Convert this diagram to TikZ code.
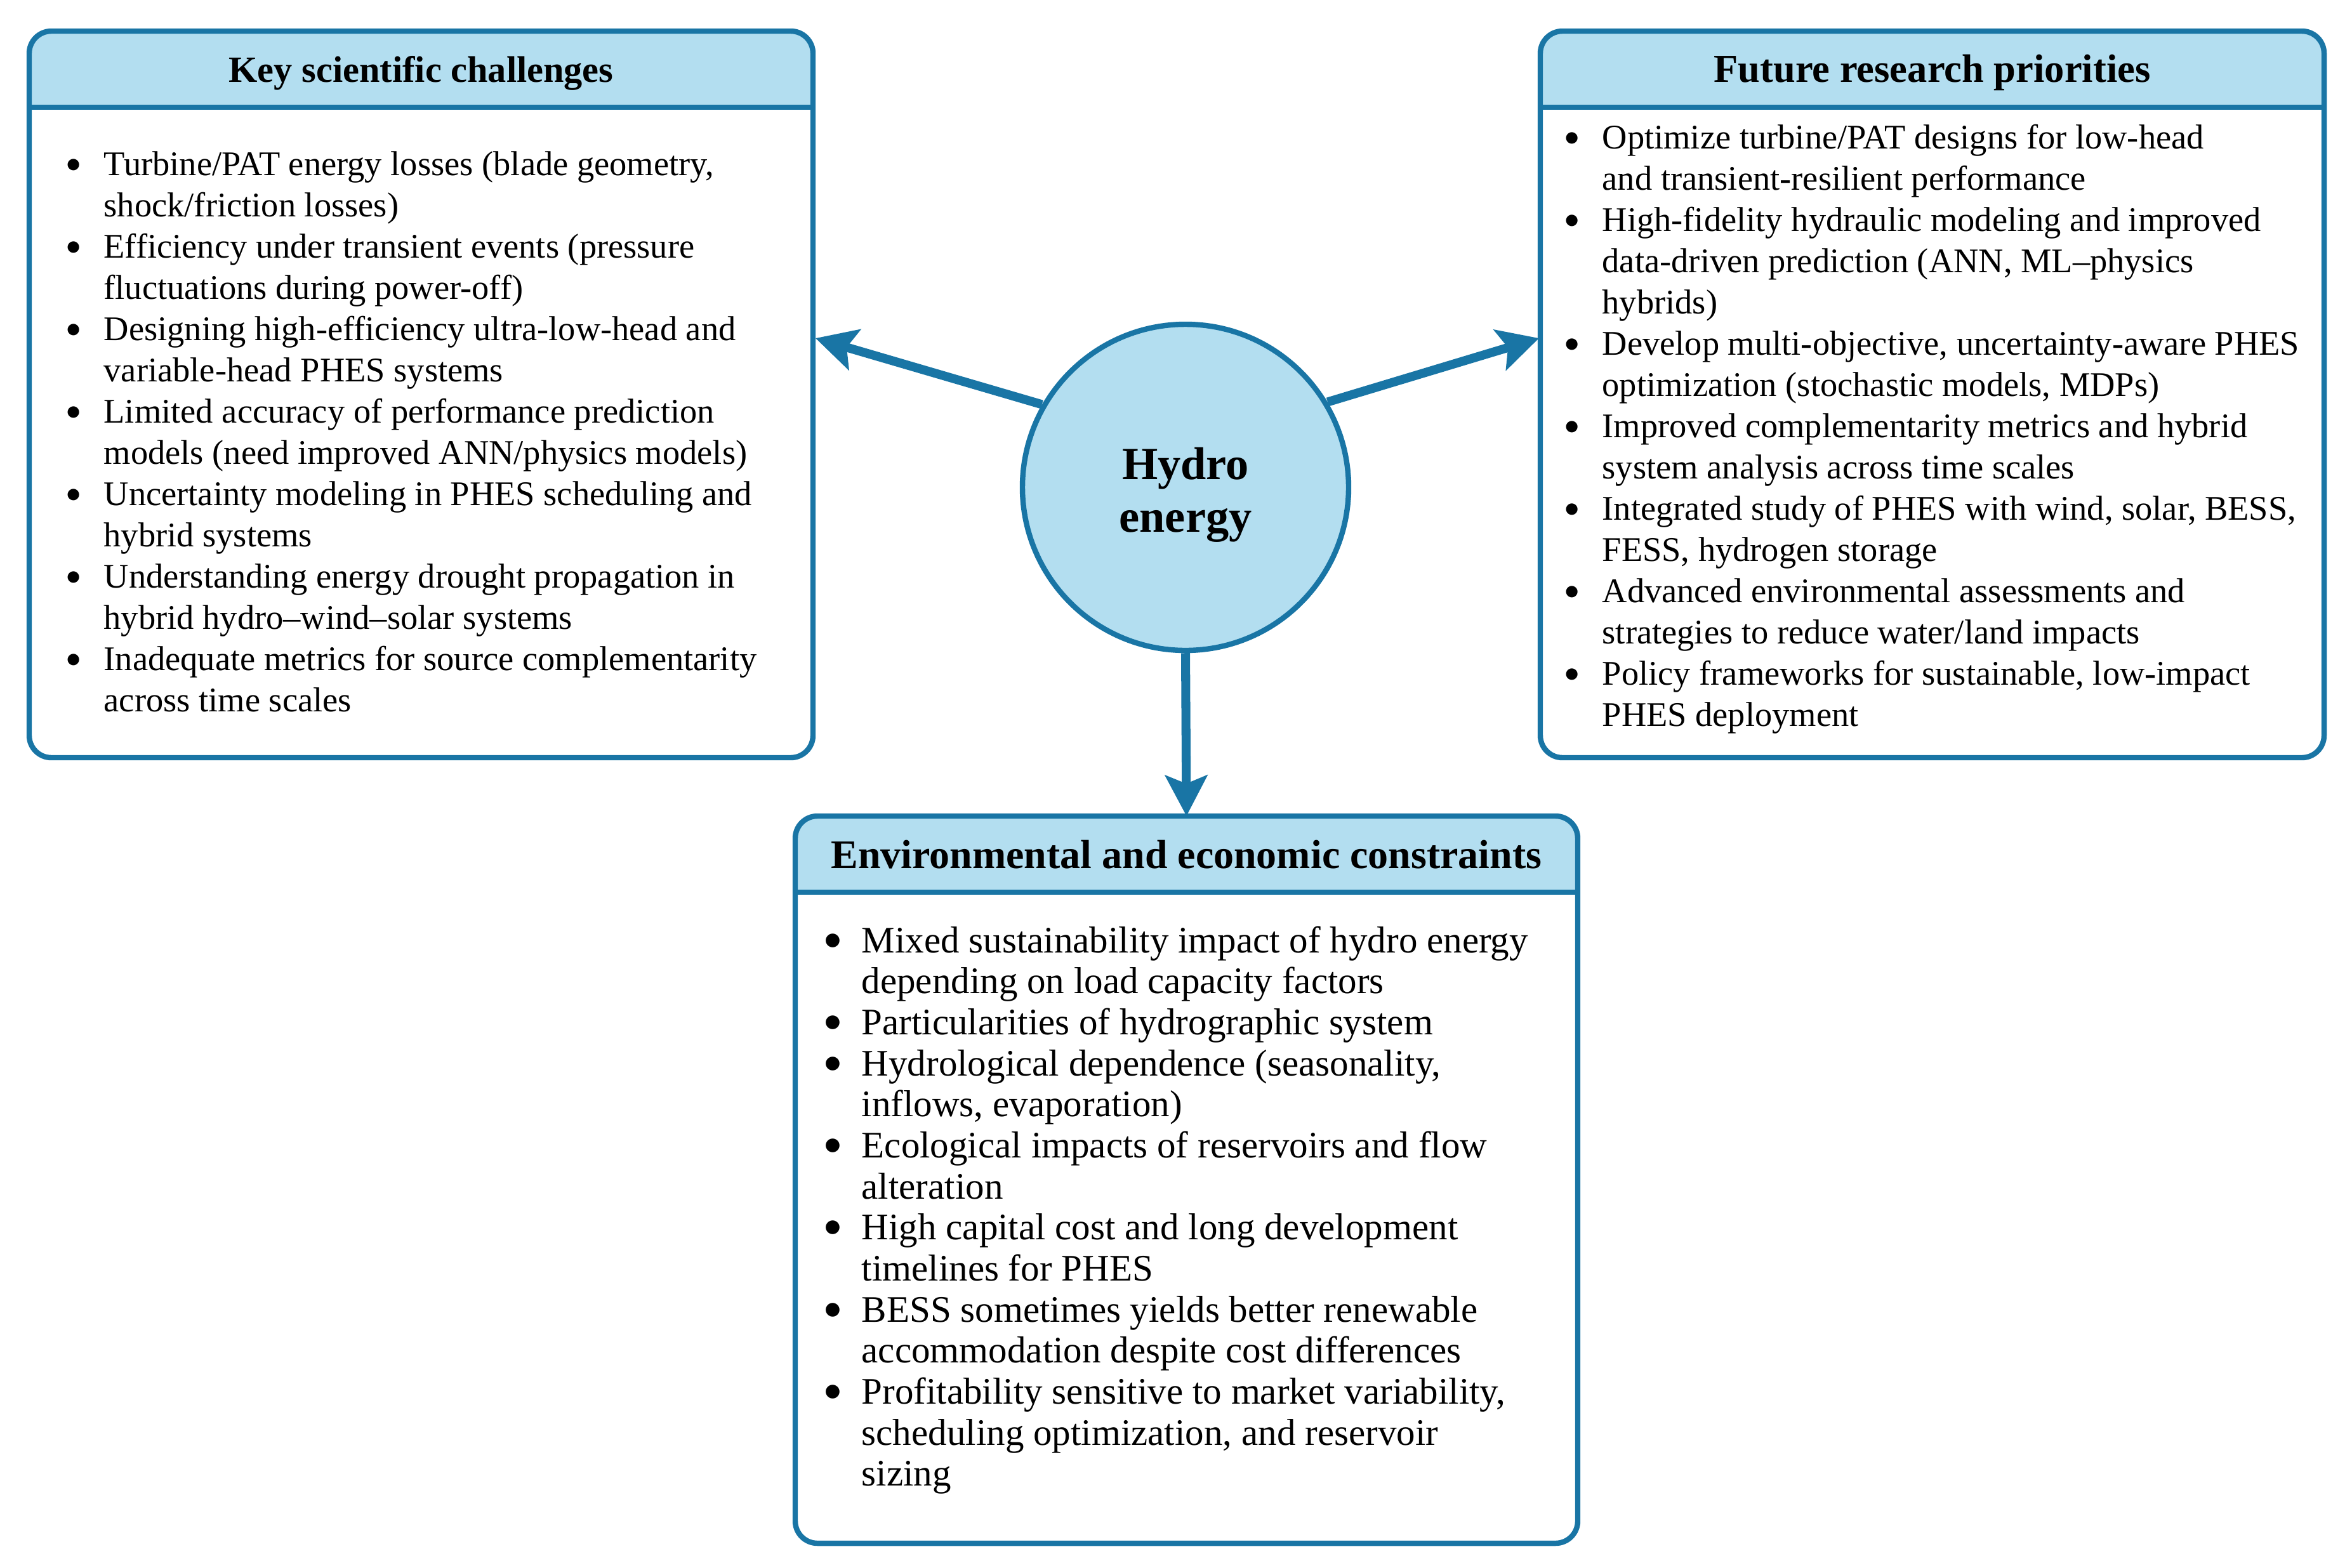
\documentclass[tikz,border=0pt]{standalone}
\usepackage{fontspec}
\setmainfont{Liberation Serif}
\usetikzlibrary{arrows.meta}
\definecolor{hb}{RGB}{25,117,165}
\definecolor{hfill}{RGB}{179,222,240}
\newcommand{\bul}{\raisebox{1.4pt}{\scalebox{0.92}{$\bullet$}}}
\newcommand{\blist}[1]{{\renewcommand{\arraystretch}{1}\begin{tabular}[t]{@{}p{0.59cm}@{}l@{}}#1\end{tabular}}}
\tikzset{
  panel/.style={rectangle, inner sep=0pt, outer sep=0pt, fill=white, anchor=north west},
  bord/.style={draw=hb, line width=2.4pt},
  htext/.style={anchor=base, inner sep=0pt, font=\bfseries\fontsize{16.6}{19}\selectfont},
  btext/.style={anchor=base west, inner sep=0pt, font=\fontsize{15.5}{18.5}\selectfont},
  arr/.style={draw=hb, line width=4pt, -{Stealth[length=0.64cm,width=0.66cm,inset=0.13cm]}}
}
\begin{document}
\begin{tikzpicture}[x=1cm,y=1cm]
\useasboundingbox (0,0) rectangle (37.06,-24.70);

% ---------- panels ----------
\node[panel, minimum width=12.35cm, minimum height=11.45cm] (kc) at (0.46,-0.49) {};
\node[panel, minimum width=12.35cm, minimum height=11.45cm] (fr) at (24.27,-0.49) {};
\node[panel, minimum width=12.33cm, minimum height=11.46cm] (env) at (12.53,-12.86) {};

\foreach \p in {kc,fr,env}{
  \begin{scope}
    \clip[rounded corners=0.35cm] (\p.north west) rectangle (\p.south east);
    \fill[hfill] (\p.north west) rectangle ([yshift=-1.20cm]\p.north east);
  \end{scope}
  \draw[bord] ([yshift=-1.20cm]\p.north west) -- ([yshift=-1.20cm]\p.north east);
  \draw[bord, rounded corners=0.35cm] (\p.north west) rectangle (\p.south east);
}

% ---------- headers ----------
\node[htext] (kch) at (6.635,-1.29) {Key scientific challenges};
\node[htext, font=\bfseries\fontsize{17.8}{20}\selectfont] (frh) at (30.445,-1.29) {Future research priorities};
\node[htext, font=\bfseries\fontsize{18.2}{20}\selectfont] (envh) at (18.695,-13.68) {Environmental and economic constraints};

% ---------- bodies ----------
\node[btext] (kcb) at (1.04,-2.76) {\blist{
\bul & Turbine/PAT energy losses (blade geometry,\\
 & shock/friction losses)\\
\bul & Efficiency under transient events (pressure\\
 & fluctuations during power-off)\\
\bul & Designing high-efficiency ultra-low-head and\\
 & variable-head PHES systems\\
\bul & Limited accuracy of performance prediction\\
 & models (need improved ANN/physics models)\\
\bul & Uncertainty modeling in PHES scheduling and\\
 & hybrid systems\\
\bul & Understanding energy drought propagation in\\
 & hybrid hydro–wind–solar systems\\
\bul & Inadequate metrics for source complementarity\\
 & across time scales
}};

\node[btext] (frb) at (24.65,-2.34) {\blist{
\bul & Optimize turbine/PAT designs for low-head\\
 & and transient-resilient performance\\
\bul & High-fidelity hydraulic modeling and improved\\
 & data-driven prediction (ANN, ML–physics\\
 & hybrids)\\
\bul & Develop multi-objective, uncertainty-aware PHES\\
 & optimization (stochastic models, MDPs)\\
\bul & Improved complementarity metrics and hybrid\\
 & system analysis across time scales\\
\bul & Integrated study of PHES with wind, solar, BESS,\\
 & FESS, hydrogen storage\\
\bul & Advanced environmental assessments and\\
 & strategies to reduce water/land impacts\\
\bul & Policy frameworks for sustainable, low-impact\\
 & PHES deployment
}};

\node[btext, font=\fontsize{16.8}{18.4}\selectfont] (envb) at (12.98,-15.01) {\blist{
\bul & Mixed sustainability impact of hydro energy\\
 & depending on load capacity factors\\
\bul & Particularities of hydrographic system\\
\bul & Hydrological dependence (seasonality,\\
 & inflows, evaporation)\\
\bul & Ecological impacts of reservoirs and flow\\
 & alteration\\
\bul & High capital cost and long development\\
 & timelines for PHES\\
\bul & BESS sometimes yields better renewable\\
 & accommodation despite cost differences\\
\bul & Profitability sensitive to market variability,\\
 & scheduling optimization, and reservoir\\
 & sizing
}};

% ---------- centre ----------
\node[circle, draw=hb, fill=hfill, line width=2.4pt, minimum size=5.14cm, inner sep=0pt] (hydro) at (18.68,-7.68) {};
\node[align=center, inner sep=0pt, font=\bfseries\fontsize{20.6}{23.6}\selectfont] (hydrolbl) at (18.68,-7.80) {Hydro\\energy};

% ---------- connectors ----------
\coordinate (lt) at (12.85,-5.33);
\coordinate (rt) at (24.25,-5.33);
\draw[arr] (hydro.150.5) -- (lt);
\draw[arr] (hydro.31) -- (rt);
\draw[arr] (hydro.south) -- (env.north);
\end{tikzpicture}
\end{document}
